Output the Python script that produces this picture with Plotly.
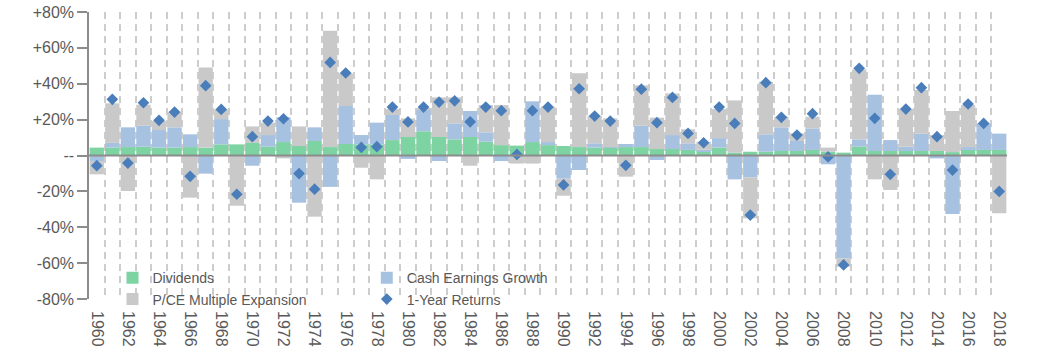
import plotly.graph_objects as go

years = list(range(1960, 2019))

dividends = [4.4, 4.4, 4.7, 4.9, 4.4, 4.4, 4.7, 4.4, 6.2, 6.2,
             7.0, 4.9, 7.5, 5.3, 8.1, 4.7, 6.4, 6.2, 6.2, 8.6,
             10.3, 13.5, 10.3, 9.0, 10.3, 7.7, 5.8, 5.5, 7.5, 5.8,
             5.3, 4.7, 4.4, 4.4, 4.7, 4.7, 3.6, 3.6, 3.1, 2.4,
             4.4, 1.6, 2.1, 2.1, 2.5, 2.5, 3.1, 2.1, 1.6, 4.9,
             2.5, 2.5, 2.5, 2.5, 2.5, 1.9, 3.1, 3.1, 3.1]

cash_earnings_growth = [-3.1, 2.6, 11.0, 11.7, 9.8, 11.3, 7.1, -10.1, 14.1, 0.0,
                        -5.7, 6.5, 13.8, -26.3, 7.6, -17.5, 21.2, 5.2, 12.1, 14.0,
                        -1.9, 12.4, -3.1, 8.9, 14.5, 5.2, -3.1, -0.5, 22.7, 1.7,
                        -12.9, -8.1, 2.4, 0.3, 1.7, 11.9, -2.5, 7.8, 3.7, 0.8,
                        5.3, -13.3, -12.2, 9.7, 13.2, 5.6, 12.0, -4.9, -57.4, 4.1,
                        31.4, 6.1, 2.4, 9.7, -1.6, -32.6, 1.6, 14.8, 9.1]

pce_multiple_expansion = [-7.4, 22.1, -19.8, 11.7, 5.0, 8.7, -23.5, 44.7, 5.4, -28.0,
                          9.2, 6.9, -1.6, 10.9, -34.1, 64.8, 18.2, -6.8, -13.3, 3.3,
                          10.4, 0.5, 22.1, 14.5, -5.7, 15.2, 22.3, -4.0, -4.5, 19.7,
                          -9.5, 41.1, 15.4, 16.0, -11.8, 22.5, 17.5, 23.2, 7.8, 4.4,
                          16.2, 29.1, -22.8, 29.3, 5.9, 4.2, 6.5, 2.3, -4.6, 39.0,
                          -13.3, -19.2, 21.0, 24.3, 8.9, 22.9, 23.4, 0.0, -32.2]

one_year_returns = [-5.7, 31.3, -4.2, 29.4, 19.6, 24.2, -11.6, 38.9, 25.7, -21.6,
                    10.5, 19.2, 20.5, -10.1, -18.8, 51.9, 46.0, 4.5, 4.9, 27.0,
                    18.7, 27.0, 29.8, 30.5, 18.8, 27.0, 25.0, 0.6, 25.0, 27.0,
                    -16.4, 37.2, 22.0, 19.2, -5.5, 37.0, 18.3, 32.4, 12.3, 7.1,
                    27.0, 17.9, -33.2, 40.6, 21.3, 11.4, 23.3, -0.8, -61.0, 48.6,
                    20.7, -10.5, 25.9, 37.8, 10.5, -8.1, 28.7, 17.9, -20.0]

y_tickvals = [80, 60, 40, 20, 0, -20, -40, -60, -80]
y_ticktext = ["+80%", "+60%", "+40%", "+20%", "--", "-20%", "-40%", "-60%", "-80%"]
x_tickvals = years[::2]
x_ticktext = [str(y) for y in x_tickvals]

TEXT = "#595959"
FONT = "Arial, Liberation Sans, sans-serif"

fig = go.Figure()
fig.add_trace(go.Bar(x=years, y=dividends, name="Dividends",
                     marker=dict(color="#7dd4a2", line=dict(width=0)), legend="legend"))
fig.add_trace(go.Bar(x=years, y=cash_earnings_growth, name="Cash Earnings Growth",
                     marker=dict(color="#a7c1e1", line=dict(width=0)), legend="legend2"))
fig.add_trace(go.Bar(x=years, y=pce_multiple_expansion, name="P/CE Multiple Expansion",
                     marker=dict(color="#c9c9c9", line=dict(width=0)), legend="legend"))
fig.add_trace(go.Scatter(x=years, y=one_year_returns, name="1-Year Returns", mode="markers",
                         marker=dict(symbol="diamond", size=9, color="#4a7ebb"),
                         legend="legend2"))

boundaries = [y - 0.5 for y in years] + [years[-1] + 0.5]

fig.update_layout(
    width=1039, height=355, autosize=False,
    margin=dict(l=89, r=32, t=12, b=56, autoexpand=False),
    barmode="relative", bargap=0.08,
    paper_bgcolor="white", plot_bgcolor="white",
    font=dict(family=FONT, color=TEXT, size=14),
    xaxis=dict(range=[years[0] - 0.5, years[-1] + 0.5], tickmode="array",
               tickvals=x_tickvals, ticktext=x_ticktext, tickangle=90,
               tickfont=dict(size=16, color=TEXT), ticks="", ticklabelstandoff=11,
               showgrid=False, zeroline=False, showline=False,
               minor=dict(tickmode="array", tickvals=boundaries, showgrid=True,
                          gridcolor="#cdcdcd", gridwidth=1.5, griddash="7px,5px", ticks="")),
    yaxis=dict(range=[-80, 80], tickmode="array", tickvals=y_tickvals, ticktext=y_ticktext,
               tickfont=dict(size=16, color=TEXT), ticks="outside", ticklen=10,
               tickcolor="#8c8c8c", tickwidth=1.5, showline=True, linecolor="#8c8c8c",
               linewidth=1.5, showgrid=False, zeroline=False),
    legend=dict(x=0.0256, xanchor="left", y=0.128, yanchor="top", bgcolor="rgba(0,0,0,0)",
                font=dict(size=14, color=TEXT), tracegroupgap=0, borderwidth=0),
    legend2=dict(x=0.3026, xanchor="left", y=0.128, yanchor="top", bgcolor="rgba(0,0,0,0)",
                 font=dict(size=14, color=TEXT), tracegroupgap=0, borderwidth=0),
    showlegend=True,
    shapes=[
        dict(type="rect", xref="paper", yref="paper", x0=0.006, x1=0.6, y0=0, y1=0.11,
             fillcolor="white", line=dict(width=0), layer="between"),
        dict(type="line", xref="paper", yref="y", x0=0, x1=1, y0=0, y1=0,
             line=dict(color="#8c8c8c", width=2), layer="above"),
    ],
)

fig.write_html("out.html", config={"displayModeBar": False},
               post_script="document.body.style.margin='0';")
